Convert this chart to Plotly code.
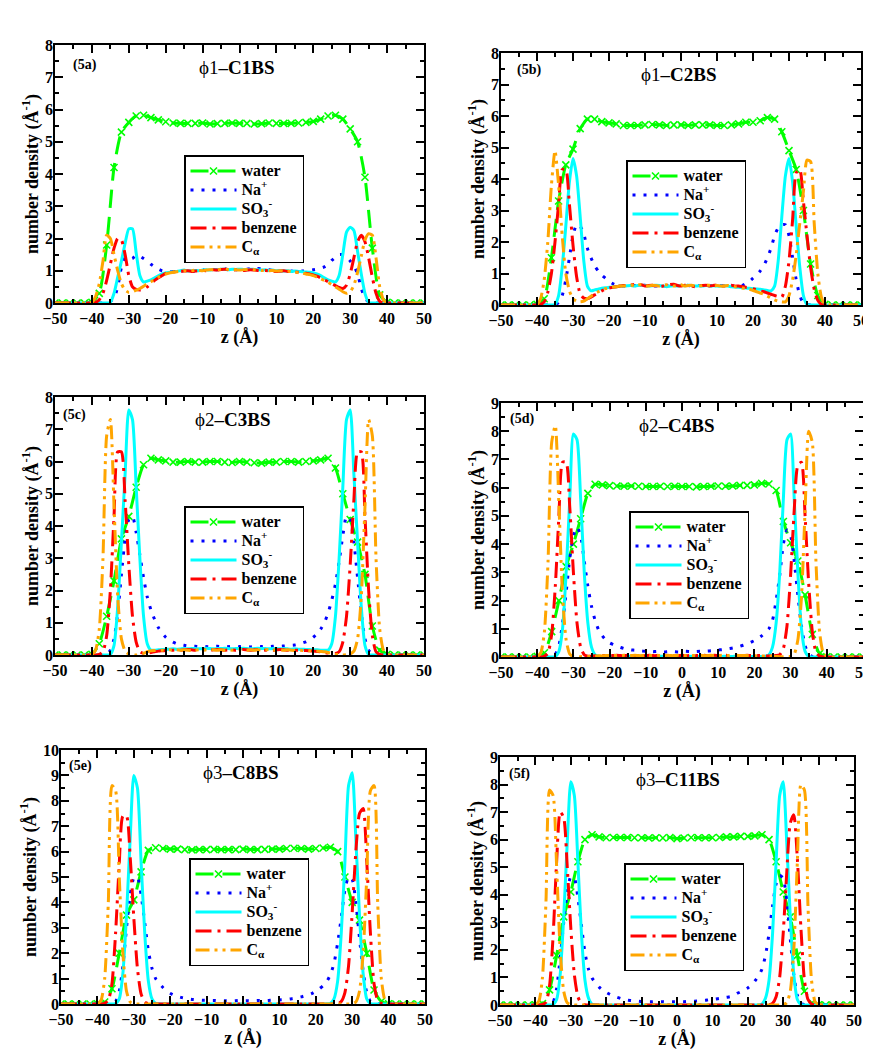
import plotly.graph_objects as go

# ---------------- data ----------------
Z = list(range(-50, 51))          # z (Å), 1 Å grid for ions
ZW = list(range(-50, 51, 2))      # z (Å), 2 Å grid for water

SERIES_NAMES = ["water", "Na<sup>+</sup>", "SO<sub>3</sub><sup>-</sup>", "benzene", "C<sub>α</sub>"]
PANEL_LABELS = ["(5a)", "(5b)", "(5c)", "(5d)", "(5e)", "(5f)"]
PANEL_TITLES = ["ϕ1<b>–C1BS</b>", "ϕ1<b>–C2BS</b>", "ϕ2<b>–C3BS</b>",
                "ϕ2<b>–C4BS</b>", "ϕ3<b>–C8BS</b>", "ϕ3<b>–C11BS</b>"]
Y_MAX = [8, 8, 8, 9, 10, 9]
X_TICKS = [-50, -40, -30, -20, -10, 0, 10, 20, 30, 40, 50]

# ---- panel (5a) ----
water_a = [0, 0, 0, 0, 0,
           0.02, 0.3, 1.8, 4.2, 5.3, 5.6, 5.8, 5.82, 5.75, 5.68,
           5.62, 5.58, 5.57, 5.57, 5.57, 5.58, 5.55, 5.56, 5.57, 5.58, 5.57, 5.57, 5.55, 5.56, 5.58, 5.57, 5.57, 5.57, 5.58, 5.6, 5.63,
           5.7, 5.8, 5.82, 5.7, 5.4, 5.0, 3.9, 1.7, 0.25, 0.02,
           0, 0, 0, 0, 0]
na_a = [0, 0, 0, 0, 0, 0, 0, 0, 0, 0,
        0, 0, 0, 0, 0.02, 0.05, 0.15, 0.5, 1.1, 1.4, 1.35, 1.38, 1.48, 1.45, 1.38, 1.3, 1.2, 1.12, 1.05, 1.0,
        0.98, 0.97, 0.98, 1.0, 0.99, 1.01, 1.0, 0.98, 1.0, 1.02, 1.03, 1.01, 1.02, 1.04, 1.03, 1.05, 1.06, 1.04, 1.05, 1.03, 1.04,
        1.03, 1.05, 1.06, 1.05, 1.07, 1.06, 1.04, 1.03, 1.02, 1.0, 0.99, 1.0, 1.01, 0.99, 0.98, 1.0, 0.99, 1.0, 1.01, 1.03,
        1.05, 1.08, 1.12, 1.2, 1.32, 1.42, 1.5, 1.5, 1.42, 1.3, 1.15, 0.9, 0.45, 0.15, 0.03, 0, 0, 0, 0, 0,
        0, 0, 0, 0, 0, 0, 0, 0, 0, 0]
so3_a = [0, 0, 0, 0, 0, 0, 0, 0, 0, 0,
         0, 0, 0, 0, 0, 0.02, 0.3, 0.8, 1.3, 1.85, 2.3, 2.3, 1.55, 0.85, 0.65, 0.68, 0.72, 0.78, 0.84, 0.9,
         0.93, 0.95, 0.97, 0.98, 1.0, 1.02, 0.99, 1.0, 1.01, 1.0, 1.02, 1.03, 1.02, 1.04, 1.03, 1.05, 1.04, 1.03, 1.05, 1.04, 1.05,
         1.04, 1.03, 1.05, 1.04, 1.03, 1.02, 1.03, 1.01, 1.02, 1.0, 1.01, 0.99, 1.0, 0.98, 0.99, 0.98, 0.97, 0.96, 0.95, 0.93,
         0.9, 0.85, 0.78, 0.72, 0.68, 0.65, 0.85, 1.5, 2.2, 2.35, 2.25, 1.6, 0.9, 0.3, 0.02, 0, 0, 0, 0, 0,
         0, 0, 0, 0, 0, 0, 0, 0, 0, 0]
benz_a = [0, 0, 0, 0, 0, 0, 0, 0, 0, 0,
          0, 0.02, 0.1, 0.3, 0.7, 1.2, 1.7, 2.0, 1.95, 1.5, 0.85, 0.5, 0.42, 0.4, 0.42, 0.5, 0.6, 0.7, 0.78, 0.85,
          0.92, 0.94, 0.96, 0.97, 0.98, 0.99, 1.0, 0.98, 0.99, 1.0, 1.01, 1.0, 1.02, 1.03, 1.02, 1.04, 1.05, 1.03, 1.02, 1.03, 1.02,
          1.01, 1.02, 1.03, 1.02, 1.01, 1.0, 1.01, 1.0, 0.99, 0.98, 0.99, 1.0, 0.98, 0.97, 0.96, 0.95, 0.94, 0.92, 0.9, 0.87,
          0.83, 0.78, 0.72, 0.66, 0.6, 0.54, 0.48, 0.45, 0.55, 0.9, 1.4, 1.9, 2.1, 1.9, 1.4, 0.8, 0.3, 0.05, 0, 0,
          0, 0, 0, 0, 0, 0, 0, 0, 0, 0]
ca_a = [0, 0, 0, 0, 0, 0, 0, 0, 0, 0,
        0.02, 0.2, 0.6, 1.3, 2.1, 2.0, 1.5, 1.0, 0.6, 0.4, 0.33, 0.35, 0.4, 0.45, 0.52, 0.6, 0.66, 0.73, 0.8, 0.86,
        0.9, 0.93, 0.95, 0.97, 0.98, 1.0, 0.99, 1.0, 1.02, 1.01, 1.0, 1.02, 1.03, 1.04, 1.03, 1.05, 1.06, 1.04, 1.05, 1.03, 1.02,
        1.03, 1.04, 1.05, 1.03, 1.02, 1.01, 1.02, 1.0, 1.01, 0.99, 1.0, 0.98, 0.99, 0.97, 0.96, 0.94, 0.93, 0.9, 0.88, 0.85,
        0.8, 0.75, 0.7, 0.64, 0.57, 0.5, 0.43, 0.35, 0.3, 0.35, 0.55, 0.95, 1.45, 1.95, 2.15, 2.1, 1.4, 0.5, 0.1, 0,
        0, 0, 0, 0, 0, 0, 0, 0, 0, 0]

# ---- panel (5b) ----
water_b = [0, 0, 0, 0, 0,
           0.02, 0.2, 1.5, 3.3, 4.45, 4.95, 5.6, 5.9, 5.9, 5.82,
           5.78, 5.75, 5.7, 5.7, 5.7, 5.72, 5.73, 5.72, 5.7, 5.72, 5.72, 5.7, 5.72, 5.72, 5.72, 5.7, 5.7, 5.72, 5.75, 5.8, 5.8,
           5.85, 5.95, 5.9, 5.5, 4.9, 4.3, 3.0, 1.3, 0.3, 0.02,
           0, 0, 0, 0, 0]
na_b = [0, 0, 0, 0, 0, 0, 0, 0, 0, 0,
        0, 0, 0, 0, 0, 0.02, 0.08, 0.3, 0.8, 1.5, 2.2, 2.55, 2.5, 2.25, 1.8, 1.5, 1.25, 1.08, 0.95, 0.85,
        0.75, 0.68, 0.63, 0.6, 0.6, 0.58, 0.6, 0.62, 0.6, 0.61, 0.63, 0.6, 0.62, 0.6, 0.61, 0.63, 0.62, 0.6, 0.6, 0.62, 0.61,
        0.63, 0.62, 0.6, 0.61, 0.62, 0.6, 0.6, 0.62, 0.6, 0.61, 0.62, 0.6, 0.6, 0.61, 0.6, 0.6, 0.62, 0.68, 0.75, 0.85,
        0.95, 1.08, 1.25, 1.5, 1.8, 2.2, 2.45, 2.55, 2.55, 2.2, 1.5, 0.8, 0.3, 0.06, 0.01, 0, 0, 0, 0, 0,
        0, 0, 0, 0, 0, 0, 0, 0, 0, 0]
so3_b = [0, 0, 0, 0, 0, 0, 0, 0, 0, 0,
         0, 0, 0, 0, 0, 0.02, 0.3, 1.2, 2.5, 3.9, 4.65, 4.1, 2.8, 1.4, 0.6, 0.45, 0.48, 0.5, 0.53, 0.55,
         0.56, 0.57, 0.58, 0.6, 0.6, 0.61, 0.62, 0.6, 0.62, 0.63, 0.62, 0.6, 0.61, 0.63, 0.62, 0.6, 0.58, 0.6, 0.62, 0.6, 0.62,
         0.61, 0.63, 0.62, 0.6, 0.61, 0.6, 0.62, 0.6, 0.61, 0.6, 0.6, 0.61, 0.6, 0.58, 0.57, 0.56, 0.55, 0.54, 0.53, 0.52,
         0.51, 0.5, 0.48, 0.46, 0.45, 0.6, 1.4, 2.8, 4.1, 4.65, 3.9, 2.5, 1.2, 0.3, 0.02, 0, 0, 0, 0, 0,
         0, 0, 0, 0, 0, 0, 0, 0, 0, 0]
benz_b = [0, 0, 0, 0, 0, 0, 0, 0, 0, 0,
          0, 0.02, 0.1, 0.4, 1.0, 2.0, 3.2, 4.3, 4.3, 3.2, 1.9, 0.9, 0.35, 0.22, 0.2, 0.25, 0.32, 0.38, 0.45, 0.5,
          0.54, 0.56, 0.58, 0.6, 0.62, 0.6, 0.63, 0.65, 0.62, 0.64, 0.6, 0.62, 0.63, 0.6, 0.58, 0.6, 0.62, 0.65, 0.66, 0.62, 0.6,
          0.63, 0.62, 0.6, 0.58, 0.6, 0.62, 0.63, 0.6, 0.62, 0.64, 0.62, 0.6, 0.62, 0.63, 0.6, 0.6, 0.58, 0.56, 0.55, 0.52,
          0.48, 0.45, 0.42, 0.38, 0.34, 0.3, 0.27, 0.25, 0.6, 1.4, 2.7, 4.2, 4.3, 3.3, 2.2, 1.2, 0.5, 0.15, 0.02, 0,
          0, 0, 0, 0, 0, 0, 0, 0, 0, 0]
ca_b = [0, 0, 0, 0, 0, 0, 0, 0, 0, 0,
        0.02, 0.2, 0.8, 2.0, 3.8, 4.9, 3.8, 2.2, 1.0, 0.45, 0.2, 0.12, 0.1, 0.12, 0.2, 0.28, 0.36, 0.42, 0.48, 0.52,
        0.55, 0.57, 0.58, 0.6, 0.6, 0.62, 0.64, 0.6, 0.63, 0.65, 0.62, 0.6, 0.63, 0.62, 0.6, 0.62, 0.64, 0.63, 0.6, 0.62, 0.64,
        0.6, 0.62, 0.63, 0.6, 0.6, 0.62, 0.64, 0.62, 0.6, 0.62, 0.6, 0.6, 0.62, 0.6, 0.58, 0.56, 0.54, 0.52, 0.5, 0.46,
        0.42, 0.38, 0.34, 0.28, 0.22, 0.16, 0.12, 0.1, 0.1, 0.3, 0.8, 1.6, 2.6, 3.6, 4.6, 4.55, 2.6, 1.0, 0.25, 0.02,
        0, 0, 0, 0, 0, 0, 0, 0, 0, 0]

# ---- panel (5c) ----
water_c = [0, 0, 0, 0, 0,
           0.02, 0.35, 1.2, 2.3, 3.6, 4.3, 5.2, 5.9, 6.1, 6.05,
           6.02, 5.98, 5.98, 6.0, 5.98, 5.98, 6.0, 6.0, 5.98, 5.97, 6.0, 5.98, 5.96, 5.95, 5.98, 5.98, 6.0, 6.0, 5.98, 6.0, 6.02,
           6.05, 6.1, 5.8, 5.0, 4.2, 3.5, 2.5, 0.9, 0.15, 0.02,
           0, 0, 0, 0, 0]
na_c = [0, 0, 0, 0, 0, 0, 0, 0, 0, 0,
        0, 0, 0, 0, 0.02, 0.15, 0.5, 1.3, 2.5, 3.6, 4.2, 4.3, 3.8, 3.1, 2.4, 1.8, 1.4, 1.1, 0.85, 0.68,
        0.55, 0.46, 0.4, 0.35, 0.32, 0.3, 0.28, 0.27, 0.27, 0.26, 0.27, 0.26, 0.25, 0.26, 0.27, 0.26, 0.25, 0.26, 0.27, 0.26, 0.26,
        0.27, 0.26, 0.25, 0.26, 0.27, 0.26, 0.27, 0.26, 0.27, 0.28, 0.27, 0.28, 0.29, 0.3, 0.31, 0.33, 0.37, 0.41, 0.47, 0.55,
        0.65, 0.8, 1.0, 1.3, 1.7, 2.2, 2.9, 3.7, 4.3, 4.2, 3.5, 2.4, 1.3, 0.5, 0.15, 0.02, 0, 0, 0, 0,
        0, 0, 0, 0, 0, 0, 0, 0, 0, 0]
so3_c = [0, 0, 0, 0, 0, 0, 0, 0, 0, 0,
         0, 0, 0, 0, 0, 0.02, 0.3, 1.5, 3.5, 5.6, 7.6, 7.3, 5.2, 3.0, 1.2, 0.35, 0.15, 0.15, 0.16, 0.17,
         0.18, 0.18, 0.19, 0.18, 0.19, 0.2, 0.19, 0.2, 0.2, 0.19, 0.2, 0.21, 0.2, 0.19, 0.2, 0.2, 0.21, 0.2, 0.19, 0.2, 0.2,
         0.21, 0.2, 0.19, 0.2, 0.21, 0.2, 0.2, 0.19, 0.2, 0.2, 0.19, 0.2, 0.19, 0.18, 0.19, 0.18, 0.18, 0.17, 0.17, 0.16,
         0.16, 0.15, 0.15, 0.15, 0.35, 1.2, 3.0, 5.2, 7.3, 7.6, 5.6, 3.5, 1.5, 0.3, 0.02, 0, 0, 0, 0, 0,
         0, 0, 0, 0, 0, 0, 0, 0, 0, 0]
benz_c = [0, 0, 0, 0, 0, 0, 0, 0, 0, 0,
          0, 0, 0.02, 0.1, 0.6, 2.0, 4.3, 6.3, 6.3, 4.8, 2.8, 1.2, 0.4, 0.1, 0.05, 0.06, 0.08, 0.1, 0.12, 0.13,
          0.14, 0.15, 0.15, 0.16, 0.15, 0.16, 0.17, 0.16, 0.15, 0.16, 0.17, 0.16, 0.15, 0.16, 0.17, 0.16, 0.15, 0.16, 0.16, 0.15, 0.16,
          0.17, 0.16, 0.15, 0.16, 0.17, 0.16, 0.15, 0.16, 0.15, 0.16, 0.17, 0.16, 0.15, 0.16, 0.15, 0.15, 0.14, 0.14, 0.13, 0.12,
          0.11, 0.1, 0.08, 0.06, 0.05, 0.05, 0.1, 0.4, 1.2, 2.8, 4.8, 6.3, 6.3, 4.3, 2.0, 0.6, 0.1, 0.02, 0, 0,
          0, 0, 0, 0, 0, 0, 0, 0, 0, 0]
ca_c = [0, 0, 0, 0, 0, 0, 0, 0, 0, 0,
        0.02, 0.15, 0.8, 3.0, 6.8, 7.3, 4.6, 1.8, 0.5, 0.12, 0.03, 0.01, 0, 0.02, 0.05, 0.1, 0.13, 0.14, 0.15, 0.15,
        0.15, 0.16, 0.15, 0.16, 0.15, 0.16, 0.15, 0.14, 0.15, 0.16, 0.15, 0.16, 0.17, 0.16, 0.15, 0.16, 0.15, 0.16, 0.15, 0.16, 0.17,
        0.16, 0.15, 0.16, 0.15, 0.16, 0.15, 0.16, 0.17, 0.16, 0.15, 0.16, 0.15, 0.16, 0.15, 0.14, 0.15, 0.14, 0.14, 0.13, 0.13,
        0.12, 0.11, 0.1, 0.08, 0.05, 0.02, 0.01, 0, 0.01, 0.03, 0.12, 0.5, 1.8, 4.6, 7.3, 6.8, 3.0, 0.8, 0.15, 0.02,
        0, 0, 0, 0, 0, 0, 0, 0, 0, 0]

# ---- panel (5d) ----
water_d = [0, 0, 0, 0, 0,
           0.02, 0.15, 0.9, 2.0, 3.2, 4.0, 4.9, 5.8, 6.12, 6.1,
           6.07, 6.06, 6.05, 6.06, 6.05, 6.04, 6.04, 6.05, 6.04, 6.05, 6.04, 6.04, 6.03, 6.04, 6.05, 6.06, 6.05, 6.06, 6.08, 6.08, 6.1,
           6.15, 6.13, 5.9, 4.8, 4.05, 3.4, 2.2, 0.8, 0.12, 0.01,
           0, 0, 0, 0, 0]
na_d = [0, 0, 0, 0, 0, 0, 0, 0, 0, 0,
        0, 0, 0, 0, 0.02, 0.1, 0.4, 1.2, 2.3, 3.5, 4.3, 4.6, 4.3, 3.4, 2.5, 1.8, 1.3, 0.95, 0.75, 0.6,
        0.5, 0.44, 0.38, 0.34, 0.3, 0.27, 0.25, 0.24, 0.22, 0.21, 0.2, 0.2, 0.19, 0.2, 0.19, 0.18, 0.19, 0.2, 0.19, 0.18, 0.19,
        0.2, 0.19, 0.18, 0.19, 0.2, 0.2, 0.21, 0.22, 0.23, 0.25, 0.26, 0.28, 0.3, 0.32, 0.35, 0.38, 0.42, 0.46, 0.52, 0.58,
        0.66, 0.75, 0.87, 1.0, 1.3, 2.0, 2.9, 4.0, 4.5, 4.3, 3.4, 2.2, 1.1, 0.4, 0.1, 0.02, 0, 0, 0, 0,
        0, 0, 0, 0, 0, 0, 0, 0, 0, 0]
so3_d = [0, 0, 0, 0, 0, 0, 0, 0, 0, 0,
         0, 0, 0, 0, 0, 0.02, 0.2, 1.0, 3.0, 5.6, 7.9, 7.7, 5.6, 3.0, 1.2, 0.35, 0.08, 0.03, 0.02, 0.02,
         0.02, 0.02, 0.03, 0.02, 0.02, 0.03, 0.02, 0.02, 0.03, 0.02, 0.02, 0.03, 0.02, 0.02, 0.03, 0.02, 0.02, 0.03, 0.02, 0.02, 0.03,
         0.02, 0.02, 0.03, 0.02, 0.02, 0.03, 0.02, 0.02, 0.03, 0.02, 0.02, 0.03, 0.02, 0.02, 0.03, 0.02, 0.02, 0.03, 0.02, 0.02,
         0.02, 0.02, 0.03, 0.08, 0.35, 1.2, 3.0, 5.6, 7.7, 7.9, 5.6, 3.0, 1.0, 0.2, 0.02, 0, 0, 0, 0, 0,
         0, 0, 0, 0, 0, 0, 0, 0, 0, 0]
benz_d = [0, 0, 0, 0, 0, 0, 0, 0, 0, 0,
          0, 0, 0.03, 0.15, 0.8, 2.5, 5.0, 6.9, 6.9, 5.3, 3.0, 1.2, 0.35, 0.08, 0.03, 0.03, 0.04, 0.04, 0.05, 0.05,
          0.05, 0.05, 0.06, 0.05, 0.05, 0.06, 0.05, 0.05, 0.06, 0.05, 0.05, 0.06, 0.05, 0.05, 0.06, 0.05, 0.05, 0.06, 0.05, 0.05, 0.06,
          0.05, 0.05, 0.06, 0.05, 0.05, 0.06, 0.05, 0.05, 0.06, 0.05, 0.05, 0.06, 0.05, 0.05, 0.06, 0.05, 0.05, 0.06, 0.05, 0.05,
          0.05, 0.05, 0.04, 0.04, 0.04, 0.05, 0.08, 0.3, 1.1, 2.9, 5.2, 6.8, 6.9, 5.0, 2.6, 0.9, 0.18, 0.03, 0, 0,
          0, 0, 0, 0, 0, 0, 0, 0, 0, 0]
ca_d = [0, 0, 0, 0, 0, 0, 0, 0, 0, 0,
        0.02, 0.15, 0.9, 3.4, 7.6, 8.2, 5.4, 2.2, 0.6, 0.1, 0.02, 0.01, 0.01, 0.02, 0.02, 0.03, 0.03, 0.04, 0.04, 0.05,
        0.05, 0.06, 0.05, 0.05, 0.06, 0.05, 0.05, 0.06, 0.05, 0.05, 0.06, 0.05, 0.05, 0.06, 0.05, 0.05, 0.06, 0.05, 0.05, 0.06, 0.05,
        0.05, 0.06, 0.05, 0.05, 0.06, 0.05, 0.05, 0.06, 0.05, 0.05, 0.06, 0.05, 0.05, 0.06, 0.05, 0.05, 0.05, 0.05, 0.04, 0.04,
        0.04, 0.04, 0.03, 0.03, 0.02, 0.02, 0.01, 0.01, 0.02, 0.02, 0.1, 0.6, 2.1, 5.2, 8.0, 7.6, 3.4, 0.9, 0.15, 0.02,
        0, 0, 0, 0, 0, 0, 0, 0, 0, 0]

# ---- panel (5e) ----
water_e = [0, 0, 0, 0, 0,
           0.01, 0.08, 0.6, 2.0, 3.5, 4.1, 5.2, 6.05, 6.15, 6.12,
           6.1, 6.1, 6.08, 6.07, 6.08, 6.08, 6.09, 6.08, 6.08, 6.08, 6.1, 6.08, 6.08, 6.09, 6.1, 6.1, 6.12, 6.13, 6.12, 6.1, 6.12,
           6.14, 6.17, 6.0, 5.0, 4.0, 3.3, 2.0, 0.55, 0.1, 0.01,
           0, 0, 0, 0, 0]
na_e = [0, 0, 0, 0, 0, 0, 0, 0, 0, 0,
        0, 0, 0, 0, 0.02, 0.1, 0.5, 1.5, 3.0, 4.3, 4.95, 5.0, 4.3, 3.2, 2.1, 1.4, 1.0, 0.8, 0.65, 0.52,
        0.42, 0.35, 0.3, 0.26, 0.23, 0.2, 0.18, 0.17, 0.16, 0.15, 0.15, 0.14, 0.14, 0.13, 0.14, 0.13, 0.13, 0.12, 0.13, 0.14, 0.13,
        0.13, 0.12, 0.13, 0.14, 0.13, 0.13, 0.14, 0.15, 0.15, 0.16, 0.17, 0.18, 0.2, 0.22, 0.25, 0.28, 0.32, 0.36, 0.42, 0.5,
        0.6, 0.72, 0.88, 1.15, 1.6, 2.4, 3.4, 4.5, 5.0, 4.9, 4.0, 2.6, 1.3, 0.45, 0.1, 0.02, 0, 0, 0, 0,
        0, 0, 0, 0, 0, 0, 0, 0, 0, 0]
so3_e = [0, 0, 0, 0, 0, 0, 0, 0, 0, 0,
         0, 0, 0, 0, 0, 0.02, 0.2, 1.2, 3.5, 6.5, 9.0, 8.5, 5.6, 2.8, 0.9, 0.2, 0.03, 0.01, 0, 0,
         0, 0, 0, 0, 0, 0, 0, 0, 0, 0, 0, 0, 0, 0, 0, 0, 0, 0, 0, 0, 0,
         0, 0, 0, 0, 0, 0, 0, 0, 0, 0, 0, 0, 0, 0, 0, 0, 0, 0, 0, 0,
         0, 0, 0.01, 0.03, 0.2, 0.9, 2.8, 5.6, 8.6, 9.1, 6.5, 3.5, 1.2, 0.2, 0.02, 0, 0, 0, 0, 0,
         0, 0, 0, 0, 0, 0, 0, 0, 0, 0]
benz_e = [0, 0, 0, 0, 0, 0, 0, 0, 0, 0,
          0, 0, 0.03, 0.15, 0.8, 2.8, 5.5, 7.4, 7.4, 5.8, 3.4, 1.4, 0.4, 0.08, 0.01, 0, 0, 0, 0, 0,
          0, 0, 0, 0, 0, 0, 0, 0, 0, 0, 0, 0, 0, 0, 0, 0, 0, 0, 0, 0, 0,
          0, 0, 0, 0, 0, 0, 0, 0, 0, 0, 0, 0, 0, 0, 0, 0, 0, 0, 0, 0,
          0, 0, 0, 0, 0, 0.01, 0.1, 0.45, 1.5, 3.6, 6.0, 7.5, 7.7, 5.6, 2.8, 0.8, 0.15, 0.03, 0, 0,
          0, 0, 0, 0, 0, 0, 0, 0, 0, 0]
ca_e = [0, 0, 0, 0, 0, 0, 0, 0, 0, 0,
        0.02, 0.15, 1.0, 4.0, 8.6, 8.4, 5.0, 2.0, 0.5, 0.08, 0.01, 0, 0, 0, 0, 0, 0, 0, 0, 0,
        0, 0, 0, 0, 0, 0, 0, 0, 0, 0, 0, 0, 0, 0, 0, 0, 0, 0, 0, 0, 0,
        0, 0, 0, 0, 0, 0, 0, 0, 0, 0, 0, 0, 0, 0, 0, 0, 0, 0, 0, 0,
        0, 0, 0, 0, 0, 0, 0, 0, 0, 0.01, 0.08, 0.5, 2.0, 5.0, 8.4, 8.6, 4.0, 1.0, 0.15, 0.02,
        0, 0, 0, 0, 0, 0, 0, 0, 0, 0]

# ---- panel (5f) ----
water_f = [0, 0, 0, 0, 0,
           0.01, 0.05, 0.55, 1.8, 3.2, 4.1, 5.2, 6.0, 6.18, 6.1,
           6.07, 6.08, 6.08, 6.08, 6.07, 6.07, 6.06, 6.07, 6.06, 6.08, 6.04, 6.06, 6.08, 6.07, 6.07, 6.07, 6.08, 6.1, 6.1, 6.12, 6.12,
           6.14, 6.18, 6.0, 5.2, 4.1, 3.2, 1.8, 0.5, 0.06, 0.01,
           0, 0, 0, 0, 0]
na_f = [0, 0, 0, 0, 0, 0, 0, 0, 0, 0,
        0, 0, 0, 0, 0.02, 0.1, 0.6, 1.7, 3.0, 4.1, 4.65, 4.6, 3.9, 2.9, 1.9, 1.3, 0.98, 0.8, 0.65, 0.54,
        0.46, 0.39, 0.33, 0.28, 0.24, 0.2, 0.18, 0.16, 0.15, 0.14, 0.13, 0.13, 0.12, 0.12, 0.13, 0.12, 0.12, 0.11, 0.12, 0.12, 0.12,
        0.12, 0.12, 0.13, 0.13, 0.14, 0.15, 0.16, 0.17, 0.19, 0.2, 0.22, 0.24, 0.26, 0.28, 0.3, 0.34, 0.42, 0.48, 0.55, 0.62,
        0.72, 0.87, 1.05, 1.3, 1.8, 2.6, 3.6, 4.4, 4.7, 4.6, 3.8, 2.4, 1.1, 0.35, 0.08, 0.01, 0, 0, 0, 0,
        0, 0, 0, 0, 0, 0, 0, 0, 0, 0]
so3_f = [0, 0, 0, 0, 0, 0, 0, 0, 0, 0,
         0, 0, 0, 0, 0, 0.02, 0.2, 1.1, 3.2, 5.9, 8.1, 7.6, 5.2, 2.6, 0.9, 0.25, 0.03, 0.01, 0, 0,
         0, 0, 0, 0, 0, 0, 0, 0, 0, 0, 0, 0, 0, 0, 0, 0, 0, 0, 0, 0, 0,
         0, 0, 0, 0, 0, 0, 0, 0, 0, 0, 0, 0, 0, 0, 0, 0, 0, 0, 0, 0,
         0, 0, 0.01, 0.03, 0.25, 0.9, 2.6, 5.2, 7.6, 8.1, 5.9, 3.2, 1.1, 0.2, 0.02, 0, 0, 0, 0, 0,
         0, 0, 0, 0, 0, 0, 0, 0, 0, 0]
benz_f = [0, 0, 0, 0, 0, 0, 0, 0, 0, 0,
          0, 0, 0.02, 0.1, 0.7, 2.5, 5.2, 7.0, 6.8, 5.0, 2.8, 1.1, 0.3, 0.05, 0.01, 0, 0, 0, 0, 0,
          0, 0, 0, 0, 0, 0, 0, 0, 0, 0, 0, 0, 0, 0, 0, 0, 0, 0, 0, 0, 0,
          0, 0, 0, 0, 0, 0, 0, 0, 0, 0, 0, 0, 0, 0, 0, 0, 0, 0, 0, 0,
          0, 0, 0, 0, 0, 0.01, 0.06, 0.3, 1.0, 2.6, 4.8, 6.6, 6.9, 5.3, 2.8, 0.9, 0.2, 0.04, 0, 0,
          0, 0, 0, 0, 0, 0, 0, 0, 0, 0]
ca_f = [0, 0, 0, 0, 0, 0, 0, 0, 0, 0,
        0.02, 0.15, 1.0, 3.8, 7.8, 7.6, 5.0, 2.0, 0.5, 0.08, 0.01, 0, 0, 0, 0, 0, 0, 0, 0, 0,
        0, 0, 0, 0, 0, 0, 0, 0, 0, 0, 0, 0, 0, 0, 0, 0, 0, 0, 0, 0, 0,
        0, 0, 0, 0, 0, 0, 0, 0, 0, 0, 0, 0, 0, 0, 0, 0, 0, 0, 0, 0,
        0, 0, 0, 0, 0, 0, 0, 0, 0, 0.01, 0.08, 0.5, 2.0, 5.2, 8.0, 7.8, 3.6, 0.9, 0.12, 0.02,
        0, 0, 0, 0, 0, 0, 0, 0, 0, 0]

WATER = [water_a, water_b, water_c, water_d, water_e, water_f]
NA = [na_a, na_b, na_c, na_d, na_e, na_f]
SO3 = [so3_a, so3_b, so3_c, so3_d, so3_e, so3_f]
BENZ = [benz_a, benz_b, benz_c, benz_d, benz_e, benz_f]
CA = [ca_a, ca_b, ca_c, ca_d, ca_e, ca_f]

for i in range(6):
    assert len(WATER[i]) == len(ZW), ("water", i, len(WATER[i]))
    for nm, arr in (("na", NA[i]), ("so3", SO3[i]), ("benz", BENZ[i]), ("ca", CA[i])):
        assert len(arr) == len(Z), (nm, i, len(arr))

# ---------------- layout / style ----------------
FONT = "Liberation Serif"
W, H = 871, 1050
# plot-area boxes in pixels: (left, right, top, bottom)
BOXES = [(47, 416, 37, 295), (493, 853, 45, 297),
         (47, 416, 389, 647), (493, 855, 395, 649),
         (53, 417, 742, 996), (492, 846, 749, 997)]
LEGEND_POS = [(176, 147), (618, 152), (176, 498), (621, 503), (181, 850), (616, 855)]
LABEL_POS = [(77, 57), (521, 62), (66, 407), (514, 411), (72, 758), (511, 766)]
TITLE_POS = [(228, 59), (670, 67), (224, 411), (668, 417), (232, 764), (670, 771)]

STYLES = [
    dict(color="#00ff00", dash="18px,9px"),
    dict(color="#0000ff", dash="3px,8px"),
    dict(color="#00ffff", dash="solid"),
    dict(color="#ff0000", dash="16px,6px,3px,6px"),
    dict(color="#ffa500", dash="14px,5px,3px,5px,3px,5px"),
]

fig = go.Figure()
layout = dict(width=W, height=H, margin=dict(l=0, r=0, t=0, b=0),
              paper_bgcolor="white", plot_bgcolor="white", annotations=[])

for i in range(6):
    n = "" if i == 0 else str(i + 1)
    xa, ya = "x" + n, "y" + n
    lg = "legend" + n
    L, R, T, B = BOXES[i]
    series = [(ZW, WATER[i]), (Z, NA[i]), (Z, SO3[i]), (Z, BENZ[i]), (Z, CA[i])]
    for k, (xs, ys) in enumerate(series):
        st = STYLES[k]
        tr = dict(x=xs, y=ys, xaxis=xa, yaxis=ya,
                  name='<span style="font-size:16px">' + SERIES_NAMES[k] + '</span>', legend=lg,
                  line=dict(color=st["color"], width=3, dash=st["dash"], shape="spline", smoothing=0.6),
                  mode="lines", hoverinfo="skip")
        if k == 0:
            tr["mode"] = "lines+markers"
            tr["marker"] = dict(symbol="x-thin", size=7, color=st["color"],
                                line=dict(width=1.6, color=st["color"]))
        fig.add_trace(go.Scatter(**tr))

    axis_common = dict(ticks="inside", tickcolor="black", tickwidth=1.5,
                       showline=True, linecolor="black", linewidth=1.5, mirror="allticks",
                       showgrid=False, zeroline=False, automargin=False,
                       tickfont=dict(family=FONT, size=16, color="black", weight="bold"))
    layout["xaxis" + n] = dict(axis_common, domain=[L / W, R / W], anchor=ya,
                               range=[-50, 50], tickmode="array", tickvals=X_TICKS,
                               ticklen=8, ticklabelstandoff=0,
                               minor=dict(dtick=5, tick0=0, ticklen=4, tickwidth=1.5,
                                          tickcolor="black", ticks="inside", showgrid=False),
                               title=dict(text="z (Å)", standoff=0,
                                          font=dict(family=FONT, size=18, color="black", weight="bold")))
    layout["yaxis" + n] = dict(axis_common, domain=[1 - B / H, 1 - T / H], anchor=xa,
                               range=[0, Y_MAX[i]], dtick=1, tick0=0, ticklen=8, ticklabelstandoff=-3,
                               minor=dict(dtick=0.5, tick0=0, ticklen=4, tickwidth=1.5,
                                          tickcolor="black", ticks="inside", showgrid=False),
                               title=dict(text="number density (Å<sup>-1</sup>)", standoff=2,
                                          font=dict(family=FONT, size=18, color="black", weight="bold")))
    lx, ly = LEGEND_POS[i]
    layout[lg] = dict(x=lx / W, y=1 - ly / H, xanchor="left", yanchor="top", xref="paper", yref="paper",
                      bgcolor="white", bordercolor="black", borderwidth=1.5,
                      font=dict(family=FONT, size=12, color="black", weight="bold"),
                      itemwidth=46, tracegroupgap=0, traceorder="normal")
    px_, py_ = LABEL_POS[i]
    layout["annotations"].append(dict(x=px_ / W, y=1 - py_ / H, xref="paper", yref="paper",
                                      text="<b>" + PANEL_LABELS[i] + "</b>", showarrow=False,
                                      xanchor="center", yanchor="middle",
                                      font=dict(family=FONT, size=14, color="black")))
    tx, ty = TITLE_POS[i]
    layout["annotations"].append(dict(x=tx / W, y=1 - ty / H, xref="paper", yref="paper",
                                      text=PANEL_TITLES[i], showarrow=False,
                                      xanchor="center", yanchor="middle",
                                      font=dict(family=FONT, size=19, color="black")))

fig.update_layout(**layout)
fig.write_html("out.html")
